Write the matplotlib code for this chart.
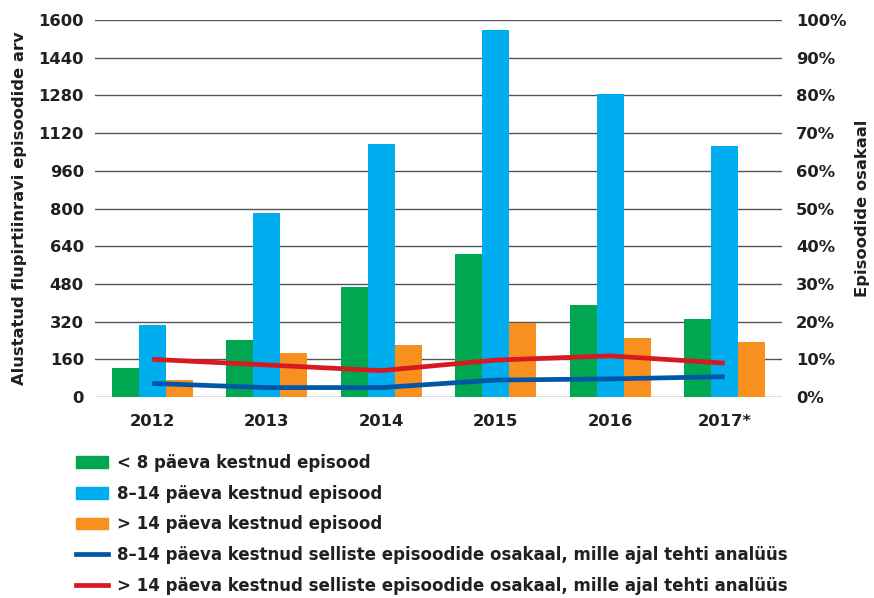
import numpy as np
import matplotlib.pyplot as plt
from matplotlib.patches import Patch
from matplotlib.lines import Line2D

plt.rcParams['font.family'] = ['DejaVu Sans']
plt.rcParams['font.weight'] = 'bold'
plt.rcParams['axes.labelweight'] = 'bold'

years = ["2012", "2013", "2014", "2015", "2016", "2017*"]
# number of episodes by treatment length
short_eps = [123, 242, 466, 606, 390, 331]     # < 8 days
mid_eps = [305, 780, 1073, 1556, 1285, 1064]   # 8-14 days
long_eps = [72, 188, 220, 314, 250, 233]       # > 14 days
# share of episodes with analysis, %
mid_share = [3.6, 2.5, 2.5, 4.5, 4.8, 5.4]
long_share = [10.0, 8.5, 7.0, 9.8, 10.9, 9.0]

green = "#00A650"
blue = "#00AEEF"
orange = "#F7901E"
dblue = "#0057A8"
red = "#D71920"
txt = "#231F20"
fs = 11.8

fig = plt.figure(figsize=(8.74, 5.98), dpi=100)
ax = fig.add_axes([0.1087, 0.3361, 0.786, 0.6304])
ax2 = ax.twinx()

x = np.arange(len(years))
w = 0.235
ax.bar(x - w, short_eps, w, color=green, zorder=2)
ax.bar(x, mid_eps, w, color=blue, zorder=2)
ax.bar(x + w, long_eps, w, color=orange, zorder=2)

ax2.plot(x, mid_share, color=dblue, lw=3.4, solid_capstyle='butt')
ax2.plot(x, long_share, color=red, lw=3.4, solid_capstyle='butt')

ax.set_xlim(-0.5, len(years) - 0.5)
ax.set_ylim(0, 1600)
ax.set_yticks(np.arange(0, 1601, 160))
ax2.set_ylim(0, 100)
ax2.set_yticks(np.arange(0, 101, 10))
ax2.set_yticklabels([f"{v}%" for v in range(0, 101, 10)])
ax.set_xticks(x)
ax.set_xticklabels(years)

ax.yaxis.grid(True, color="#555555", lw=1.0)
ax.set_axisbelow(True)
for a in (ax, ax2):
    for s in a.spines.values():
        s.set_visible(False)
    a.tick_params(length=0, labelsize=fs, labelcolor=txt)
ax.tick_params(axis='y', pad=8)
ax.tick_params(axis='x', pad=12)
ax2.tick_params(axis='y', pad=10)

ax.set_ylabel("Alustatud flupirtiinravi episoodide arv", fontsize=fs,
              color=txt, labelpad=8)
ax2.set_ylabel("Episoodide osakaal", fontsize=fs, color=txt, labelpad=6)

handles = [
    Patch(color=green),
    Patch(color=blue),
    Patch(color=orange),
    Line2D([], [], color=dblue, lw=3.4),
    Line2D([], [], color=red, lw=3.4),
]
labels = [
    "< 8 päeva kestnud episood",
    "8–14 päeva kestnud episood",
    "> 14 päeva kestnud episood",
    "8–14 päeva kestnud selliste episoodide osakaal, mille ajal tehti analüüs",
    "> 14 päeva kestnud selliste episoodide osakaal, mille ajal tehti analüüs",
]
fig.legend(handles, labels, loc="upper left", bbox_to_anchor=(0.079, 0.252),
           frameon=False, prop={'size': 12.0, 'weight': 'bold'},
           handlelength=1.95, handleheight=0.7, handletextpad=0.55,
           labelspacing=0.76, borderaxespad=0, labelcolor=txt)

fig.savefig("out.png", dpi=100)
